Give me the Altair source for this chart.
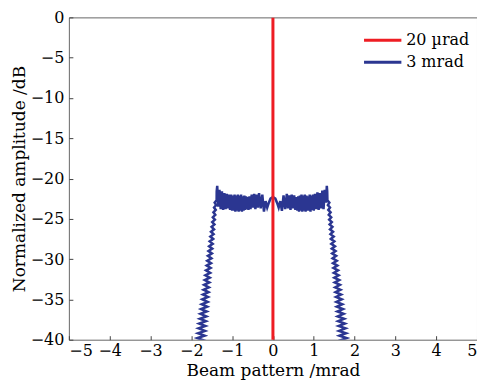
import altair as alt
import pandas as pd

# ---- 3 mrad beam pattern ----
# left flank (bottom -> top); the flank is a dense zigzag of side lobes
left_edge_x = [
    -1.882, -1.696, -1.866, -1.686, -1.851, -1.675, -1.836, -1.665, -1.821, -1.654,
    -1.806, -1.644, -1.791, -1.633, -1.776, -1.623, -1.761, -1.612, -1.745, -1.601,
    -1.730, -1.591, -1.715, -1.580, -1.700, -1.570, -1.685, -1.559, -1.670, -1.549,
    -1.655, -1.538, -1.639, -1.528, -1.624, -1.517, -1.609, -1.507, -1.594, -1.496,
    -1.579, -1.486, -1.564, -1.475, -1.549, -1.464, -1.534, -1.454, -1.518, -1.443,
    -1.503, -1.433, -1.488, -1.422, -1.473, -1.412, -1.458, -1.401, -1.443, -1.391,
    -1.428, -1.380, -1.378, -1.365,
]
left_edge_y = [
    -41.0, -40.7, -40.4, -40.1, -39.8, -39.5, -39.2, -38.9, -38.6, -38.3,
    -38.0, -37.7, -37.4, -37.1, -36.8, -36.5, -36.2, -35.9, -35.6, -35.3,
    -35.0, -34.7, -34.4, -34.1, -33.8, -33.5, -33.2, -32.9, -32.6, -32.3,
    -32.0, -31.7, -31.4, -31.1, -30.8, -30.5, -30.2, -29.9, -29.6, -29.3,
    -29.0, -28.7, -28.4, -28.1, -27.8, -27.5, -27.2, -26.9, -26.6, -26.3,
    -26.0, -25.7, -25.4, -25.1, -24.8, -24.5, -24.2, -23.9, -23.6, -23.3,
    -23.0, -22.7, -21.6, -20.9,
]
# flat top with ripples
ripple_x = [
    -1.34, -1.31, -1.28, -1.25, -1.22, -1.19, -1.16, -1.13, -1.10, -1.075,
    -1.05, -1.025, -1.00, -0.98, -0.96, -0.94, -0.92, -0.90, -0.88, -0.86,
    -0.84, -0.82, -0.80, -0.78, -0.76, -0.74, -0.72, -0.70, -0.68, -0.66,
    -0.64, -0.62, -0.60, -0.575, -0.55, -0.52, -0.49, -0.46, -0.43, -0.40,
    -0.37, -0.34, -0.30, -0.26, -0.22, -0.18, -0.14, -0.10, -0.06, 0.0,
    0.06, 0.10, 0.14, 0.18, 0.22, 0.26, 0.30, 0.34, 0.37, 0.40,
    0.43, 0.46, 0.49, 0.52, 0.55, 0.575, 0.60, 0.62, 0.64, 0.66,
    0.68, 0.70, 0.72, 0.74, 0.76, 0.78, 0.80, 0.82, 0.84, 0.86,
    0.88, 0.90, 0.92, 0.94, 0.96, 0.98, 1.00, 1.03, 1.06, 1.09,
    1.12, 1.15, 1.18, 1.21, 1.24, 1.27, 1.30, 1.32,
]
ripple_y = [
    -23.5, -21.4, -23.8, -21.6, -23.9, -21.8, -23.8, -21.9, -23.7, -22.0,
    -23.9, -22.0, -24.0, -22.1, -24.0, -22.0, -24.1, -22.1, -24.0, -22.0,
    -24.1, -22.1, -24.0, -22.0, -24.1, -22.2, -24.0, -22.1, -23.9, -22.2,
    -23.8, -22.3, -23.9, -22.2, -23.8, -22.0, -23.6, -21.9, -23.8, -22.0,
    -23.6, -21.8, -23.7, -22.0, -24.1, -22.8, -23.6, -23.0, -22.5, -22.3,
    -22.5, -23.0, -23.6, -22.8, -24.0, -22.1, -23.8, -21.9, -23.7, -22.1,
    -23.9, -22.0, -23.7, -22.1, -23.9, -22.3, -24.0, -22.2, -24.1, -22.1,
    -24.0, -22.0, -24.1, -22.1, -24.0, -22.0, -24.1, -22.1, -24.0, -22.2,
    -24.0, -22.0, -24.1, -22.1, -23.9, -22.0, -24.0, -21.9, -23.8, -21.7,
    -23.9, -21.8, -23.7, -21.5, -23.8, -21.4, -23.0, -20.9,
]
# right flank (top -> bottom)
right_edge_x = [
    1.330, 1.335, 1.383, 1.346, 1.398, 1.356, 1.413, 1.367, 1.428, 1.377,
    1.443, 1.388, 1.458, 1.398, 1.473, 1.409, 1.489, 1.419, 1.504, 1.430,
    1.519, 1.441, 1.534, 1.451, 1.549, 1.462, 1.564, 1.472, 1.579, 1.483,
    1.594, 1.493, 1.610, 1.504, 1.625, 1.514, 1.640, 1.525, 1.655, 1.535,
    1.670, 1.546, 1.685, 1.556, 1.700, 1.567, 1.716, 1.578, 1.731, 1.588,
    1.746, 1.599, 1.761, 1.609, 1.776, 1.620, 1.791, 1.630, 1.806, 1.641,
    1.821, 1.651, 1.837,
]
right_edge_y = [
    -21.6, -22.7, -23.0, -23.3, -23.6, -23.9, -24.2, -24.5, -24.8, -25.1,
    -25.4, -25.7, -26.0, -26.3, -26.6, -26.9, -27.2, -27.5, -27.8, -28.1,
    -28.4, -28.7, -29.0, -29.3, -29.6, -29.9, -30.2, -30.5, -30.8, -31.1,
    -31.4, -31.7, -32.0, -32.3, -32.6, -32.9, -33.2, -33.5, -33.8, -34.1,
    -34.4, -34.7, -35.0, -35.3, -35.6, -35.9, -36.2, -36.5, -36.8, -37.1,
    -37.4, -37.7, -38.0, -38.3, -38.6, -38.9, -39.2, -39.5, -39.8, -40.1,
    -40.4, -40.7, -41.0,
]

# ---- 20 µrad beam: a single narrow spike at 0 ----
red_x = [0.0, 0.0]
red_y = [-41.0, 0.0]

series_names = ["20 µrad", "3 mrad"]
series_colors = ["#ee1d23", "#2b3691"]

x_ticks = [-5, -4, -3, -2, -1, 0, 1, 2, 3, 4, 5]
y_ticks = [-40, -35, -30, -25, -20, -15, -10, -5, 0]

blue_x = left_edge_x + ripple_x + right_edge_x
blue_y = left_edge_y + ripple_y + right_edge_y
blue_df = pd.DataFrame({"x": blue_x, "y": blue_y, "series": series_names[1],
                        "order": list(range(len(blue_x)))})
red_df = pd.DataFrame({"x": red_x, "y": red_y, "series": series_names[0],
                       "order": list(range(len(red_x)))})

FONT = "DejaVu Serif"

xenc = alt.X("x:Q", scale=alt.Scale(domain=[-5, 5], nice=False, zero=False),
             axis=alt.Axis(values=x_ticks, title="Beam pattern /mrad", format="d",
                           offset=-4, tickSize=4, labelPadding=3, titlePadding=4))
yenc = alt.Y("y:Q", scale=alt.Scale(domain=[-40, 0], nice=False, zero=False),
             axis=alt.Axis(values=y_ticks, title="Normalized amplitude /dB", format="d",
                           offset=-4, tickSize=4, labelPadding=5, titlePadding=2))
color = alt.Color("series:N",
                  scale=alt.Scale(domain=series_names, range=series_colors),
                  legend=alt.Legend(title=None, orient="none", legendX=294, legendY=13,
                                    symbolType="stroke", symbolSize=1400, symbolStrokeWidth=3,
                                    labelFont=FONT, labelFontSize=16, labelColor="black",
                                    labelOffset=3, padding=0, rowPadding=2, clipHeight=20))

blue = alt.Chart(blue_df).mark_line(strokeWidth=2.5, clip=True).encode(
    x=xenc, y=yenc, color=color, order="order:Q")
red = alt.Chart(red_df).mark_line(strokeWidth=3, clip=True).encode(
    x=xenc, y=yenc, color=color, order="order:Q")

chart = alt.layer(blue, red).properties(
    width=409, height=323,
    background="white",
    autosize=alt.AutoSizeParams(type="none"),
    padding={"left": 61, "top": 9, "right": 0, "bottom": 44},
).configure_view(stroke="#666666", strokeWidth=1).configure_axis(
    grid=False, domain=False, tickColor="#444444", tickWidth=1,
    labelFont=FONT, labelFontSize=16, labelColor="black",
    titleFont=FONT, titleFontSize=17, titleFontWeight="normal", titleColor="black",
)

chart.save("out.html", embed_options={"renderer": "svg", "actions": False})
